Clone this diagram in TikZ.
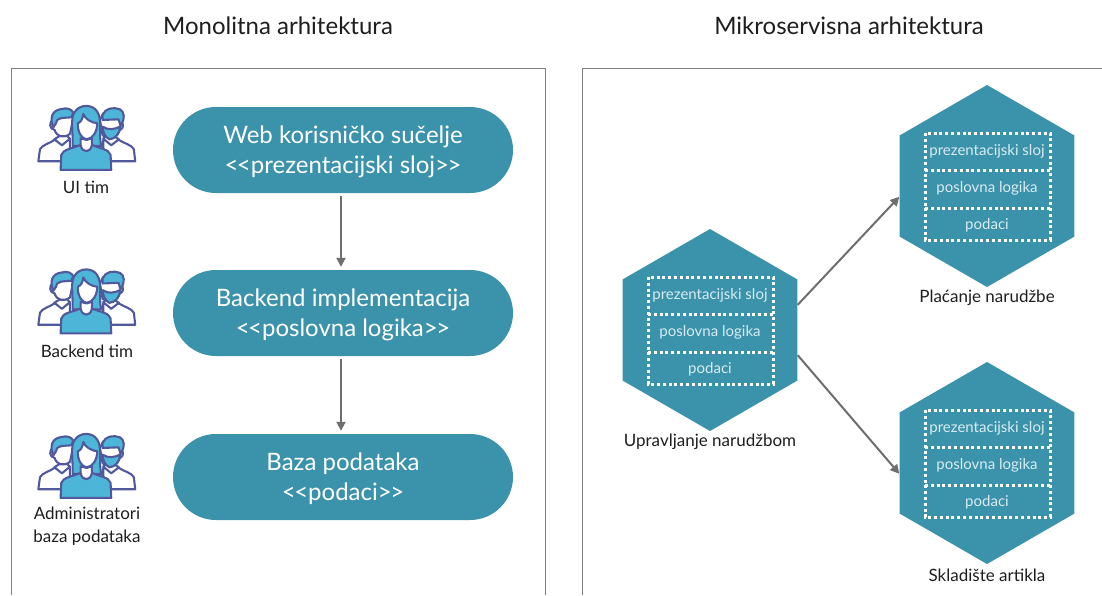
\documentclass[tikz,border=0pt]{standalone}
\usepackage{fontspec}
\setmainfont{Lato}
\usetikzlibrary{shapes.geometric,arrows.meta}
\definecolor{teal}{HTML}{3B92AB}
\definecolor{peopleblue}{HTML}{4DB5D8}
\definecolor{peopleline}{HTML}{50599C}
\definecolor{framegray}{HTML}{7F7F7F}
\definecolor{arrowgray}{HTML}{6E6E6E}
\definecolor{softtext}{HTML}{D8ECF2}
\definecolor{ink}{HTML}{1E1E1E}
\newcommand{\lgl}{<\kern-1.5pt<}
\newcommand{\rgl}{>\kern-1.5pt>}
\tikzset{
  pill/.style={fill=teal,rounded corners=43pt,minimum width=340pt,minimum height=86pt,inner sep=0pt,text=white,font=\fontsize{24}{30}\selectfont,align=center,text depth=0pt},
  hexa/.style={regular polygon,regular polygon sides=6,shape border rotate=30,fill=teal,minimum size=202pt,inner sep=0pt},
  conn/.style={draw=arrowgray,line width=2pt,-{Triangle[length=9pt,width=9pt]}},
  frameline/.style={draw=framegray,line width=0.8pt},
  titletext/.style={font=\fontsize{24}{28}\selectfont,text=ink},
  captext/.style={font=\fontsize{17}{23}\selectfont,text=ink,align=center},
  layer/.style={font=\fontsize{15}{17}\selectfont,text=softtext},
  dots/.style={draw=white,line width=3pt,dash pattern=on 3pt off 2.8pt},
  pline/.style={draw=peopleline,line width=2.1pt,line join=round},
  team/.pic={
    \begin{scope}[x=0.333pt,y=-0.333pt]
      \path[pline,fill=white] (55,214) -- (60,178) .. controls (66,165) and (90,160) .. (103,150) -- (150,150) -- (150,214) -- cycle;
      \path[pline,fill=white] (103,148) -- (126,166) -- (150,146) -- (132,130) -- cycle;
      \path[pline,fill=white] (100,88) .. controls (86,96) and (88,118) .. (104,120) .. controls (110,140) and (130,146) .. (150,132) -- (160,85) -- (150,70) -- cycle;
      \path[pline,fill=peopleblue] (100,112) .. controls (88,85) and (96,60) .. (125,57) .. controls (142,52) and (155,58) .. (160,68) -- (154,82) .. controls (130,84) and (108,82) .. (108,100) -- cycle;
      \path[pline,fill=white] (346,214) -- (342,178) .. controls (336,165) and (312,160) .. (297,150) -- (250,150) -- (250,214) -- cycle;
      \path[pline,fill=white] (297,148) -- (274,166) -- (250,146) -- (268,130) -- cycle;
      \path[pline,fill=white] (302,92) .. controls (312,100) and (312,116) .. (300,120) .. controls (296,140) and (270,150) .. (248,136) -- (240,90) -- (250,70) -- cycle;
      \path[pline,fill=peopleblue] (302,108) .. controls (316,85) and (314,65) .. (300,58) .. controls (280,50) and (255,55) .. (248,75) -- (248,90) -- (296,88) -- cycle;
      \path[pline,fill=peopleblue] (248,110) .. controls (265,122) and (285,118) .. (300,110) .. controls (300,132) and (285,148) .. (268,148) .. controls (256,142) and (248,125) .. (248,110) -- cycle;
      \path[pline,fill=peopleblue] (158,168) .. controls (160,130) and (150,80) .. (165,65) .. controls (180,42) and (218,42) .. (232,65) .. controls (248,90) and (235,130) .. (244,168) -- cycle;
      \path[pline,fill=peopleblue] (122,240) -- (124,195) .. controls (128,178) and (160,175) .. (182,165) -- (216,165) .. controls (238,175) and (268,178) .. (272,195) -- (274,240) -- cycle;
      \path[pline,fill=white] (182,145) -- (182,165) .. controls (186,190) and (212,190) .. (216,165) -- (216,145) -- (200,150) -- cycle;
      \path[pline,fill=white] (174,100) .. controls (185,95) and (188,85) .. (190,72) .. controls (196,88) and (215,98) .. (232,100) .. controls (232,125) and (218,147) .. (200,148) .. controls (185,147) and (172,125) .. (174,100) -- cycle;
    \end{scope}
  }
}
\begin{document}
\begin{tikzpicture}[x=1pt,y=-1pt]
\useasboundingbox (0,0) rectangle (1102,595);
\fill[white] (0,0) rectangle (1102,595);
\node[titletext] (tl) at (278,26) {Monolitna arhitektura};
\node[titletext] (tr) at (849,26) {Mikroservisna arhitektura};
\path[frameline] (11,595) -- (11,68) -- (545,68) -- (545,595);
\path[frameline] (582,595) -- (582,68) -- (1102,68);
\node[pill] (web) at (343,150) {Web korisničko sučelje\\\lgl prezentacijski sloj\rgl};
\node[pill] (be) at (343,313) {Backend implementacija\\\lgl poslovna logika\rgl};
\node[pill] (db) at (343,477) {Baza podataka\\\lgl podaci\rgl};
\path[conn] ([xshift=-2pt,yshift=-3pt]web.south) -- ([xshift=-2pt,yshift=3pt]be.north);
\path[conn] ([xshift=-2pt,yshift=-3pt]be.south) -- ([xshift=-2pt,yshift=3pt]db.north);
\pic at (20,90) {team};
\pic at (20,253.5) {team};
\pic at (20,418) {team};
\node[captext] (c1) at (86,187) {UI tim};
\node[captext] (c2) at (87,351) {Backend tim};
\node[captext] (c3) at (87,526) {Administratori\\baza podataka};
\node[hexa] (L) at (710,330) {};
\node[hexa] (R1) at (987,186) {};
\node[hexa] (R2) at (987,463) {};
\foreach \h in {L,R1,R2}{
  \path[dots] ([shift={(-62pt,53pt)}]\h.center) rectangle ([shift={(63pt,-54pt)}]\h.center);
  \path[dots] ([shift={(-62pt,16pt)}]\h.center) -- ([shift={(63pt,16pt)}]\h.center);
  \path[dots] ([shift={(-62pt,-22pt)}]\h.center) -- ([shift={(63pt,-22pt)}]\h.center);
  \node[layer] at ([yshift=35pt]\h.center) {prezentacijski sloj};
  \node[layer] at ([yshift=-2.5pt]\h.center) {poslovna logika};
  \node[layer] at ([yshift=-39pt]\h.center) {podaci};
}
\path[conn] (L.16) -- (R1.187);
\path[conn] (L.344) -- (R2.187);
\node[captext] (c4) at (710,442) {Upravljanje narudžbom};
\node[captext] (c5) at (987,298) {Plaćanje narudžbe};
\node[captext] (c6) at (987,575) {Skladište artikla};
\end{tikzpicture}
\end{document}
